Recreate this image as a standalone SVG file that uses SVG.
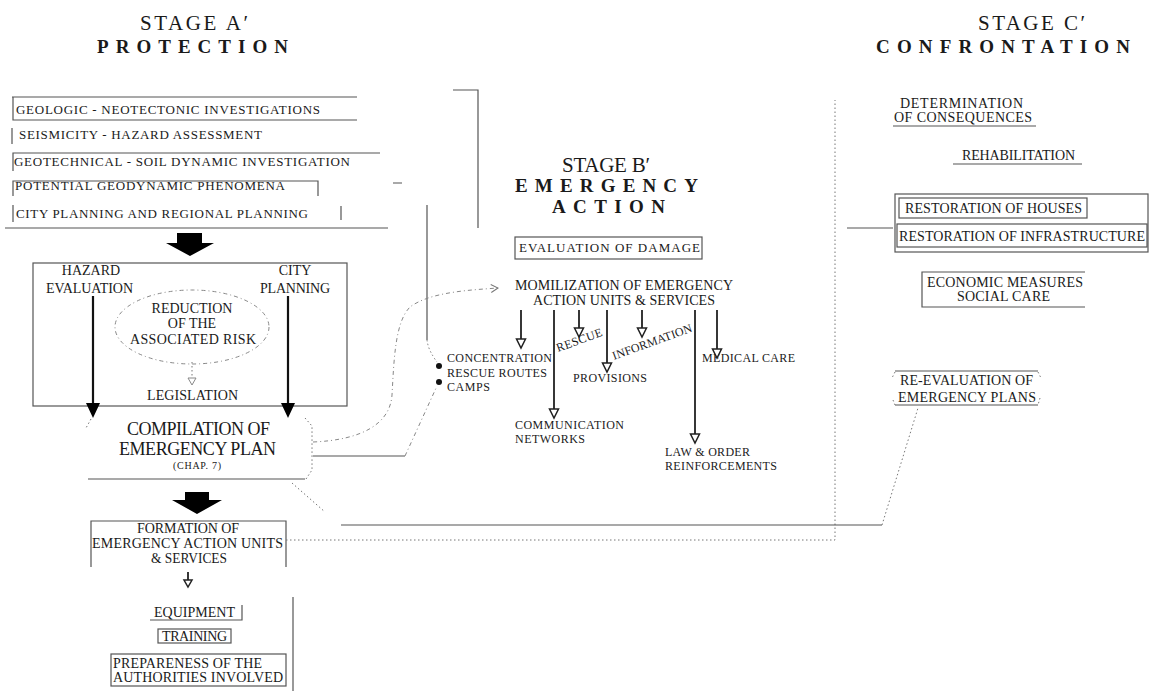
<svg xmlns="http://www.w3.org/2000/svg" width="1150" height="691" viewBox="0 0 1150 691" font-family="Liberation Serif, Times New Roman, Tinos, serif">
<style>
text{fill:#1a1a1a}
.hd{font-size:21px}
.hb{font-size:19px;font-weight:bold}
.t13{font-size:13px}
.t14{font-size:14px}
.t12{font-size:12px}
.ln{fill:none;stroke:#555;stroke-width:1.2}
.dt{fill:none;stroke:#777;stroke-width:1;stroke-dasharray:1.5,2.5}
.ds{fill:none;stroke:#888;stroke-width:1;stroke-dasharray:4,3,1,3}
.ar{stroke:#222;stroke-width:1.8;fill:none}
.oh{fill:#fff;stroke:#222;stroke-width:1.5}
.blk{fill:#000}
</style>
<defs>
<marker id="oa" markerWidth="10" markerHeight="10" refX="8" refY="5" orient="auto" markerUnits="userSpaceOnUse">
<path d="M1,1 L8,5 L1,9" fill="none" stroke="#777" stroke-width="1"/>
</marker>
</defs>
<rect width="1150" height="691" fill="#fff"/>

<g id="header-a">
<text class="hd" x="140" y="30" textLength="108" lengthAdjust="spacing">STAGE  A′</text>
<text class="hb" x="97" y="53" textLength="191" lengthAdjust="spacing">PROTECTION</text>
</g>
<g id="header-b">
<text class="hd" x="562" y="172" textLength="88" lengthAdjust="spacing">STAGE B′</text>
<text class="hb" x="515" y="192" textLength="183" lengthAdjust="spacing">EMERGENCY</text>
<text class="hb" x="552" y="213" textLength="113" lengthAdjust="spacing">ACTION</text>
</g>
<g id="header-c">
<text class="hd" x="978" y="30" textLength="107" lengthAdjust="spacing">STAGE C′</text>
<text class="hb" x="876" y="53" textLength="254" lengthAdjust="spacing">CONFRONTATION</text>
</g>

<g id="investigations">
<path class="ln" d="M12,97 H357 M13,97 V120 H357"/>
<text class="t13" x="16" y="114" textLength="304" lengthAdjust="spacing">GEOLOGIC - NEOTECTONIC INVESTIGATIONS</text>
<path class="ln" d="M12,128 V144"/>
<text class="t13" x="19" y="139" textLength="243" lengthAdjust="spacing">SEISMICITY - HAZARD ASSESSMENT</text>
<path class="ln" d="M13,171 V153 H380"/>
<text class="t13" x="14" y="166" textLength="336" lengthAdjust="spacing">GEOTECHNICAL - SOIL DYNAMIC INVESTIGATION</text>
<path class="ln" d="M13,196 V181 H318 V196"/>
<text class="t13" x="15" y="190" textLength="270" lengthAdjust="spacing">POTENTIAL GEODYNAMIC PHENOMENA</text>
<path class="ln" d="M13,205 V222 M341,206 V220 M5,228 H388"/>
<text class="t13" x="16" y="218" textLength="292" lengthAdjust="spacing">CITY PLANNING AND REGIONAL PLANNING</text>
</g>

<g id="hazard-box">
<rect class="ln" x="33" y="263" width="314" height="143"/>
<text class="t14" x="91" y="275" text-anchor="middle">HAZARD</text>
<text class="t14" x="46" y="293" textLength="87" lengthAdjust="spacing">EVALUATION</text>
<text class="t14" x="295" y="275" text-anchor="middle">CITY</text>
<text class="t14" x="260" y="293" textLength="70" lengthAdjust="spacing">PLANNING</text>
</g>

<g id="risk-reduction">
<ellipse class="ds" cx="192" cy="327" rx="77" ry="37"/>
<text class="t14" x="192" y="313" text-anchor="middle">REDUCTION</text>
<text class="t14" x="192" y="328" text-anchor="middle">OF THE</text>
<text class="t14" x="130" y="344" textLength="126" lengthAdjust="spacing">ASSOCIATED RISK</text>
</g>

<g id="legislation">
<text class="t14" x="147" y="400" textLength="91" lengthAdjust="spacing">LEGISLATION</text>
</g>

<g id="compilation">
<path class="dt" d="M91,419 L86,428 M305,418 L312,426 V470 L306,479"/>
<path class="ln" d="M88,479 H305"/>
<text x="127" y="435" style="font-size:18px" textLength="143" lengthAdjust="spacing">COMPILATION OF</text>
<text x="119" y="455" style="font-size:18px" textLength="157" lengthAdjust="spacing">EMERGENCY PLAN</text>
<text x="173" y="469" style="font-size:10px" textLength="48" lengthAdjust="spacing">(CHAP. 7)</text>
</g>

<g id="formation">
<path class="ln" d="M91,567 V521 H286 V567"/>
<text class="t14" x="137" y="533" textLength="102" lengthAdjust="spacing">FORMATION OF</text>
<text class="t14" x="92" y="548" textLength="191" lengthAdjust="spacing">EMERGENCY ACTION UNITS</text>
<text class="t14" x="151" y="563" textLength="76" lengthAdjust="spacingAndGlyphs">&amp; SERVICES</text>
</g>

<g id="equipment">
<path class="ln" d="M150,620 H242 V605"/>
<text class="t14" x="154" y="617" textLength="81" lengthAdjust="spacing">EQUIPMENT</text>
</g>
<g id="training">
<rect class="ln" x="158" y="629" width="73" height="14"/>
<text class="t14" x="162" y="641" textLength="65" lengthAdjust="spacing">TRAINING</text>
</g>
<g id="prepareness">
<rect class="ln" x="111" y="654" width="175" height="32"/>
<text class="t14" x="113" y="668" textLength="149" lengthAdjust="spacing">PREPARENESS OF THE</text>
<text class="t14" x="113" y="682" textLength="170" lengthAdjust="spacing">AUTHORITIES INVOLVED</text>
</g>

<g id="evaluation-damage">
<rect class="ln" x="515" y="237" width="187" height="22"/>
<text class="t13" x="519" y="252" textLength="181" lengthAdjust="spacing">EVALUATION OF DAMAGE</text>
</g>

<g id="mobilization">
<text class="t14" x="515" y="290" textLength="218" lengthAdjust="spacing">MOMILIZATION OF EMERGENCY</text>
<text class="t14" x="533" y="305" textLength="182" lengthAdjust="spacing">ACTION UNITS &amp; SERVICES</text>
</g>

<g id="concentration">
<circle cx="439" cy="366" r="3" fill="#111"/>
<circle cx="439" cy="382" r="3" fill="#111"/>
<text class="t12" x="447" y="362" textLength="105" lengthAdjust="spacing">CONCENTRATION</text>
<text class="t12" x="447" y="377" textLength="100" lengthAdjust="spacing">RESCUE ROUTES</text>
<text class="t12" x="447" y="391" textLength="43" lengthAdjust="spacing">CAMPS</text>
</g>
<g id="rescue">
<text class="t12" transform="translate(558,352) rotate(-20)" textLength="48" lengthAdjust="spacing">RESCUE</text>
</g>
<g id="information">
<text class="t12" transform="translate(614,360) rotate(-20)" textLength="84" lengthAdjust="spacing">INFORMATION</text>
</g>
<g id="provisions">
<text class="t12" x="573" y="382" textLength="74" lengthAdjust="spacing">PROVISIONS</text>
</g>
<g id="medical">
<text class="t12" x="702" y="362" textLength="93" lengthAdjust="spacing">MEDICAL CARE</text>
</g>
<g id="communication">
<text class="t12" x="515" y="429" textLength="109" lengthAdjust="spacing">COMMUNICATION</text>
<text class="t12" x="515" y="443" textLength="70" lengthAdjust="spacing">NETWORKS</text>
</g>
<g id="law-order">
<text class="t12" x="665" y="456" textLength="85" lengthAdjust="spacing">LAW &amp; ORDER</text>
<text class="t12" x="665" y="470" textLength="112" lengthAdjust="spacing">REINFORCEMENTS</text>
</g>

<g id="determination">
<text class="t14" x="900" y="108" textLength="123" lengthAdjust="spacing">DETERMINATION</text>
<text class="t14" x="894" y="122" textLength="138" lengthAdjust="spacing">OF CONSEQUENCES</text>
<path class="ln" d="M893,126 H1036"/>
</g>
<g id="rehabilitation">
<text class="t14" x="962" y="160" textLength="113" lengthAdjust="spacing">REHABILITATION</text>
<path class="ln" d="M953,164 H1082"/>
</g>
<g id="restoration">
<rect class="ln" x="895" y="194" width="253" height="58"/>
<rect class="ln" x="899" y="198" width="188" height="20"/>
<text class="t14" x="905" y="213" textLength="177" lengthAdjust="spacing">RESTORATION OF HOUSES</text>
<rect class="ln" x="897" y="224" width="250" height="23"/>
<text class="t14" x="899" y="241" textLength="246" lengthAdjust="spacing">RESTORATION OF INFRASTRUCTURE</text>
</g>
<g id="economic">
<path class="ln" d="M1085,272 H922 V307 H1085"/>
<text class="t14" x="927" y="287" textLength="156" lengthAdjust="spacing">ECONOMIC MEASURES</text>
<text class="t14" x="957" y="301" textLength="93" lengthAdjust="spacing">SOCIAL CARE</text>
</g>
<g id="re-evaluation">
<path d="M895,371 H1038" stroke="#aaa" stroke-width="2"/>
<path class="ln" d="M895,405 H1038"/>
<path class="dt" d="M895,372 L892,378 M893,400 L895,405 M1038,372 L1041,378 M1040,398 L1038,405"/>
<text class="t14" x="900" y="385" textLength="133" lengthAdjust="spacing">RE-EVALUATION OF</text>
<text class="t14" x="898" y="402" textLength="138" lengthAdjust="spacing">EMERGENCY PLANS</text>
</g>

<g id="connectors">
<polygon class="blk" points="177,233 202,233 202,243 214,243 190,256 166,243 177,243"/>
<polygon class="blk" points="185,492 209,492 209,500 222,500 197,514 172,500 185,500"/>
<path d="M93,296 V404 M288,296 V404" stroke="#111" stroke-width="2.2"/>
<polygon class="blk" points="86,403 100,403 93,418"/>
<polygon class="blk" points="281,403 295,403 288,418"/>
<path class="dt" d="M192,362 V378"/>
<polygon points="188,378 196,378 192,385" fill="#fff" stroke="#888" stroke-width="1"/>
<path class="ln" d="M453,90 H478 V228 M393,183 H402 M427,205 V340"/>
<path class="dt" d="M427,340 Q428,350 437,362"/>
<path class="ds" d="M313,442 C360,440 390,425 392,395 C394,360 395,322 410,307 C430,292 470,290 498,288" marker-end="url(#oa)"/>
<path class="ln" d="M313,456 H405"/>
<path class="ds" d="M405,456 L437,386"/>
<path class="dt" d="M292,483 L325,512"/>
<path class="dt" d="M286,540 H835 V100"/>
<path class="ln" d="M341,525 H882"/>
<path class="dt" d="M882,525 L918,408"/>
<path class="ln" d="M847,228 H893"/>
<path class="ar" d="M188,572 V580"/>
<polygon class="oh" points="184,580 192,580 188,587"/>
<path class="ln" d="M293,597 V691"/>
<path class="ar" d="M521,310 V339 M554,310 V409 M579,310 V328 M607,310 V363 M642,310 V328 M695,310 V434 M717,310 V349"/>
<polygon class="oh" points="516.5,339 525.5,339 521,348"/>
<polygon class="oh" points="549.5,409 558.5,409 554,418"/>
<polygon class="oh" points="574.5,328 583.5,328 579,337"/>
<polygon class="oh" points="602.5,363 611.5,363 607,372"/>
<polygon class="oh" points="637.5,328 646.5,328 642,337"/>
<polygon class="oh" points="690.5,434 699.5,434 695,443"/>
<polygon class="oh" points="712.5,349 721.5,349 717,358"/>
</g>
</svg>
